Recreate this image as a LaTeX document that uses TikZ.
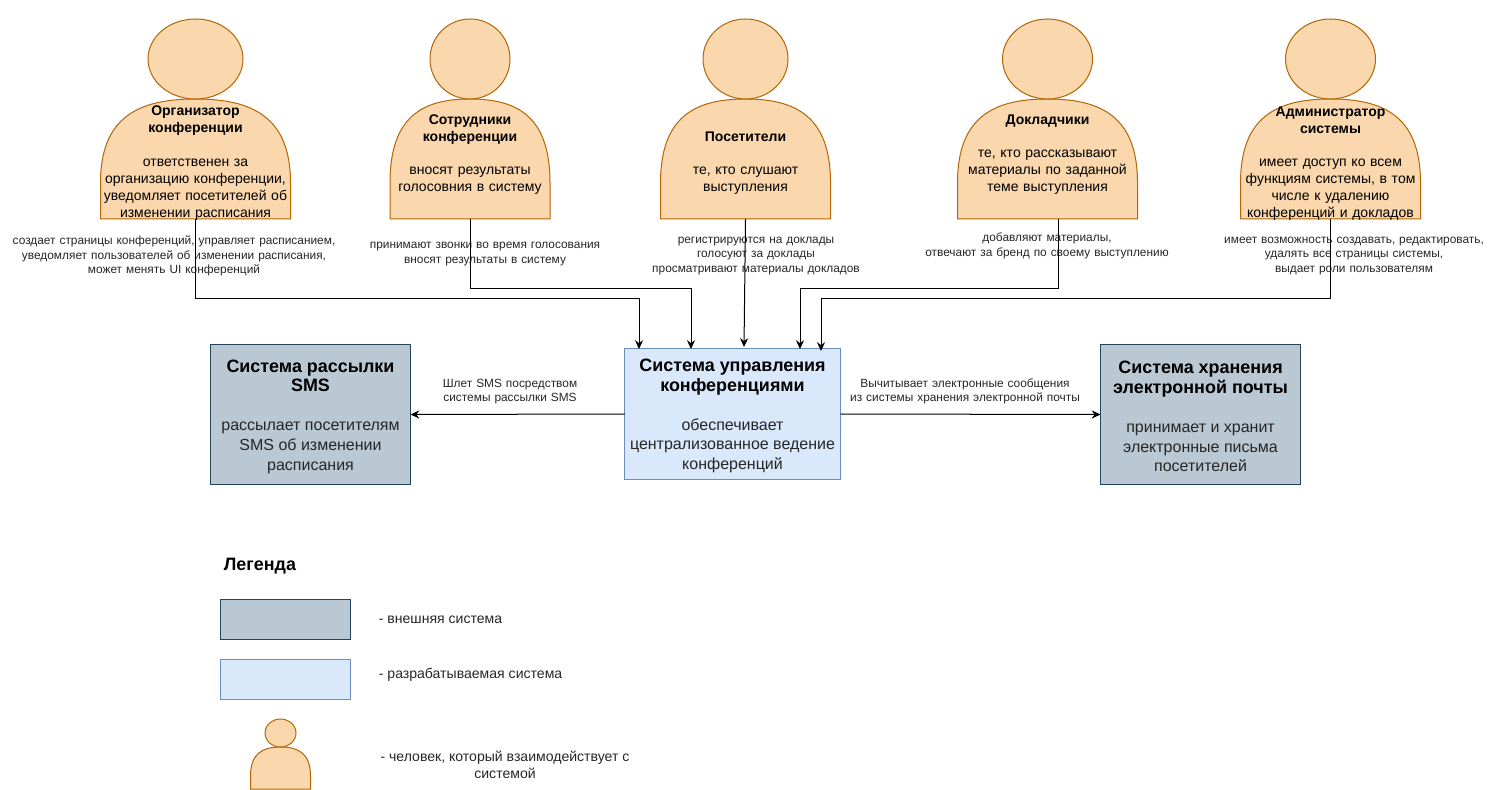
\documentclass[tikz,border=0pt]{standalone}
\usepackage{fontspec}
\setmainfont{Liberation Sans}
\usetikzlibrary{arrows.meta}

\definecolor{actorfill}{HTML}{FAD7AC}
\definecolor{actordraw}{HTML}{B46504}
\definecolor{extfill}{HTML}{BAC8D3}
\definecolor{extdraw}{HTML}{23445D}
\definecolor{mainfill}{HTML}{DAE8FC}
\definecolor{maindraw}{HTML}{6C8EBF}

\tikzset{
    actorline/.style={draw=actordraw, fill=actorfill, line width=0.57pt},
    persontext/.style={align=center, text width=4.6cm, inner sep=0pt, font=\fontsize{7.96}{9.6}\selectfont},
    edgetext/.style={align=center, text width=6.8cm, inner sep=0pt, font=\fontsize{6.76}{8.35}\selectfont, text=black!85},
    legendtext/.style={align=center, inner sep=0pt, font=\fontsize{8}{9.6}\selectfont, text=black!85},
    sysbox/.style={rectangle, inner sep=0pt, outer sep=0pt, align=center, line width=0.57pt, font=\fontsize{9.1}{11.2}\selectfont, text=black!85},
    extbox/.style={sysbox, draw=extdraw, fill=extfill},
    mainbox/.style={sysbox, draw=maindraw, fill=mainfill},
    conn/.style={line width=0.57pt, -{Stealth[length=5pt, width=4.6pt]}}
}

\newcommand{\boxhead}[1]{{\fontsize{10.2}{11.2}\selectfont\bfseries\color{black}#1}}

\newcommand{\bust}[7]{%
    \pgfmathsetmacro{\bh}{(#4)-(#5)}
    \draw[actorline] ({#2-#3},#5) -- ({#2-#3},{#5+0.3*\bh})
        .. controls ({#2-#3},{#5+0.85*\bh}) and ({#2-0.6*#3},#4) .. (#2,#4)
        .. controls ({#2+0.6*#3},#4) and ({#2+#3},{#5+0.85*\bh}) .. ({#2+#3},{#5+0.3*\bh})
        -- ({#2+#3},#5) -- cycle;
    \draw[actorline] (#2,{#4+#7}) ellipse ({#6} and {#7});
    \node[minimum width=2*#3 cm, minimum height=\bh cm, inner sep=0pt, outer sep=0pt] (#1) at (#2,{(#4+#5)/2}) {};
}

\begin{document}
\begin{tikzpicture}
    \useasboundingbox (0,0) rectangle (30,-15.8);

    \bust{orgbody}{3.91}{1.9}{-1.98}{-4.38}{0.95}{0.8}
    \bust{staffbody}{9.4}{1.6}{-1.98}{-4.38}{0.8}{0.8}
    \bust{visitbody}{14.91}{1.7}{-1.98}{-4.38}{0.85}{0.8}
    \bust{speakbody}{20.95}{1.8}{-1.98}{-4.38}{0.9}{0.8}
    \bust{adminbody}{26.61}{1.8}{-1.98}{-4.38}{0.9}{0.8}

    \node[persontext] (orgtext) at (3.91,-3.26) {\textbf{Организатор}\\\textbf{конференции}\\[9.6pt]ответственен за\\организацию конференции,\\уведомляет посетителей об\\изменении расписания};
    \node[persontext] (stafftext) at (9.4,-3.09) {\textbf{Сотрудники}\\\textbf{конференции}\\[9.6pt]вносят результаты\\голосовния в систему};
    \node[persontext] (visittext) at (14.91,-3.26) {\textbf{Посетители}\\[9.6pt]те, кто слушают\\выступления};
    \node[persontext] (speaktext) at (20.95,-3.09) {\textbf{Докладчики}\\[9.6pt]те, кто рассказывают\\материалы по заданной\\теме выступления};
    \node[persontext] (admintext) at (26.61,-3.27) {\textbf{Администратор}\\\textbf{системы}\\[9.6pt]имеет доступ ко всем\\функциям системы, в том\\числе к удалению\\конференций и докладов};

    \node[edgetext] (orglabel) at (3.48,-5.12) {создает страницы конференций, управляет расписанием,\\уведомляет пользователей об изменении расписания,\\может менять UI конференций};
    \node[edgetext] (stafflabel) at (9.7,-5.08) {принимают звонки во время голосования\\вносят результаты в систему};
    \node[edgetext] (visitlabel) at (15.12,-5.12) {регистрируются на доклады\\голосуют за доклады\\просматривают материалы докладов};
    \node[edgetext] (speaklabel) at (20.94,-4.92) {добавляют материалы,\\отвечают за бренд по своему выступлению};
    \node[edgetext] (adminlabel) at (27.08,-5.12) {имеет возможность создавать, редактировать,\\удалять все страницы системы,\\выдает роли пользователям};

    \node[extbox, minimum width=4cm, minimum height=2.8cm] (smsbox) at (6.21,-8.29) {\boxhead{\rule{0pt}{9.4pt}Система рассылки}\\\boxhead{SMS}\\[11pt]рассылает посетителям\\SMS об изменении\\расписания};
    \node[mainbox, minimum width=4.32cm, minimum height=2.6cm] (confbox) at (14.65,-8.28) {\boxhead{\rule{0pt}{9.4pt}Система управления}\\\boxhead{конференциями}\\[11pt]обеспечивает\\централизованное ведение\\конференций};
    \node[extbox, minimum width=4cm, minimum height=2.8cm] (mailbox) at (24.01,-8.29) {\boxhead{\rule{0pt}{9.4pt}Система хранения}\\\boxhead{электронной почты}\\[11pt]принимает и хранит\\электронные письма\\посетителей};

    \coordinate (speakout) at (21.16,-4.38);
    \coordinate (confa) at (12.78,-6.98);
    \coordinate (confb) at (13.82,-6.98);
    \coordinate (confc) at (14.88,-6.94);
    \coordinate (confd) at (16,-6.98);
    \coordinate (confe) at (16.42,-7.02);

    \draw[conn] (orgbody.south) -- (3.91,-5.98) -| (confa);
    \draw[conn] (staffbody.south) -- (9.4,-5.78) -| (confb);
    \draw[conn] (visitbody.south) -- (confc);
    \draw[conn] (speakout) -- (21.16,-5.78) -| (confd);
    \draw[conn] (adminbody.south) -- (26.61,-5.98) -| (confe);

    \draw[conn] (confbox.west) -- (smsbox.east);
    \draw[conn] (confbox.east) -- (mailbox.west);

    \node[edgetext] (smslabel) at (10.2,-7.83) {Шлет SMS посредством\\системы рассылки SMS};
    \node[edgetext] (maillabel) at (19.3,-7.83) {Вычитывает электронные сообщения\\из системы хранения электронной почты};

    \node[anchor=west, inner sep=0pt, font=\fontsize{10.2}{11}\selectfont\bfseries] (legendhead) at (4.47,-11.32) {Легенда};

    \node[extbox, minimum width=2.6cm, minimum height=0.8cm] (legendext) at (5.71,-12.38) {};
    \node[mainbox, minimum width=2.6cm, minimum height=0.8cm] (legendmain) at (5.71,-13.58) {};
    \bust{legendbody}{5.61}{0.6}{-14.94}{-15.78}{0.31}{0.28}

    \node[legendtext, anchor=west] (legendexttext) at (7.57,-12.39) {- внешняя система};
    \node[legendtext, anchor=west] (legendmaintext) at (7.57,-13.49) {- разрабатываемая система};
    \node[legendtext] (legendbodytext) at (10.1,-15.29) {- человек, который взаимодействует с\\системой};
\end{tikzpicture}
\end{document}
